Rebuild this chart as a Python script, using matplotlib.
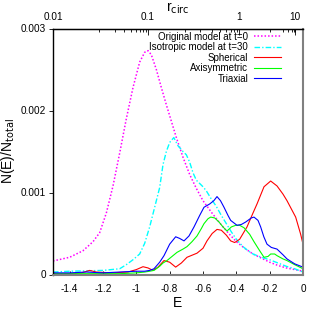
import matplotlib
matplotlib.use('Agg')
import matplotlib.pyplot as plt

plt.rcParams['font.family'] = ['Liberation Sans', 'DejaVu Sans']

# Original model at t=0
E_orig = [-1.5, -1.4, -1.32, -1.26, -1.22, -1.18, -1.14, -1.10, -1.06, -1.02, -0.98, -0.95,
          -0.93, -0.91, -0.88, -0.85, -0.82, -0.79, -0.76, -0.72, -0.68, -0.64, -0.60, -0.55,
          -0.50, -0.45, -0.40, -0.35, -0.30, -0.25, -0.20, -0.15, -0.10, -0.05, 0.0]
N_orig = [0.000165, 0.00021, 0.00029, 0.0004, 0.00051, 0.00075, 0.00108, 0.00148, 0.0019,
          0.00228, 0.00259, 0.00271, 0.00273, 0.00268, 0.0025, 0.00228, 0.00207, 0.00187,
          0.00167, 0.00143, 0.00122, 0.00105, 0.0009, 0.00076, 0.00063, 0.00051, 0.0004,
          0.00032, 0.00025, 0.0002, 0.00015, 0.00011, 0.00008, 0.00006, 0.00004]

# Isotropic model at t=30
E_iso = [-1.5, -1.4, -1.3, -1.2, -1.1, -1.06, -1.02, -0.98, -0.95, -0.92, -0.90, -0.88, -0.86,
         -0.84, -0.82, -0.80, -0.775, -0.75, -0.72, -0.70, -0.68, -0.66, -0.64, -0.62, -0.60,
         -0.58, -0.55, -0.52, -0.49, -0.46, -0.43, -0.40, -0.36, -0.33, -0.30, -0.25, -0.20,
         -0.15, -0.10, -0.05, 0.0]
N_iso = [0.00003, 0.00004, 0.000045, 0.00005, 0.00007, 0.00012, 0.00018, 0.00025, 0.00038,
         0.00058, 0.00074, 0.0009, 0.00106, 0.00134, 0.0015, 0.00161, 0.00167, 0.00157,
         0.0015, 0.00146, 0.00137, 0.00124, 0.00115, 0.00111, 0.00107, 0.00102, 0.00092,
         0.00083, 0.00072, 0.00062, 0.00052, 0.00043, 0.00034, 0.00029, 0.00025, 0.00021,
         0.00018, 0.00014, 0.0001, 0.00007, 0.00003]

# Spherical
E_sph = [-1.5, -1.4, -1.33, -1.28, -1.24, -1.15, -1.05, -1.0, -0.96, -0.93, -0.90, -0.87,
         -0.834, -0.80, -0.764, -0.73, -0.696, -0.636, -0.60, -0.576, -0.545, -0.516, -0.49,
         -0.46, -0.434, -0.41, -0.38, -0.336, -0.30, -0.276, -0.234, -0.194, -0.156, -0.12,
         -0.096, -0.07, -0.044, -0.014, 0.0]
N_sph = [0.00001, 0.00001, 0.00002, 0.00005, 0.00003, 0.00002, 0.00003, 0.00006, 0.000095,
         0.00008, 0.00005, 0.00009, 0.00017, 0.00015, 0.00009, 0.00014, 0.00021, 0.00026,
         0.00032, 0.00041, 0.0005, 0.00055, 0.00054, 0.00048, 0.00041, 0.00039, 0.00043,
         0.00058, 0.00075, 0.00086, 0.00107, 0.00114, 0.00108, 0.00098, 0.0009, 0.0008,
         0.0007, 0.00049, 0.00037]

# Axisymmetric
E_axi = [-1.5, -1.3, -1.2, -1.1, -1.0, -0.95, -0.92, -0.894, -0.86, -0.84, -0.816, -0.786,
         -0.756, -0.72, -0.696, -0.666, -0.636, -0.61, -0.594, -0.57, -0.554, -0.53, -0.504,
         -0.48, -0.456, -0.43, -0.404, -0.38, -0.354, -0.32, -0.294, -0.26, -0.234, -0.21,
         -0.194, -0.17, -0.156, -0.12, -0.096, -0.05, 0.0]
N_axi = [0.00001, 0.00001, 0.00001, 0.00001, 0.00002, 0.00003, 0.00004, 0.00005, 0.0001,
         0.00014, 0.00017, 0.00022, 0.00027, 0.00031, 0.00034, 0.0004, 0.00047, 0.00056,
         0.00062, 0.00068, 0.0007, 0.00069, 0.00064, 0.00058, 0.00053, 0.00058, 0.0006,
         0.0006, 0.00057, 0.00049, 0.0004, 0.00029, 0.00021, 0.00022, 0.00025, 0.00025,
         0.00023, 0.00019, 0.00017, 0.00012, 0.00007]

# Triaxial
E_tri = [-1.5, -1.4, -1.3, -1.2, -1.1, -1.0, -0.95, -0.92, -0.894, -0.86, -0.834, -0.80,
         -0.764, -0.74, -0.714, -0.684, -0.654, -0.62, -0.594, -0.56, -0.535, -0.516, -0.495,
         -0.474, -0.45, -0.434, -0.396, -0.37, -0.344, -0.31, -0.294, -0.27, -0.254, -0.235,
         -0.216, -0.19, -0.156, -0.12, -0.096, -0.05, 0.0]
N_tri = [0.00002, 0.00002, 0.00003, 0.00002, 0.00003, 0.00004, 0.00004, 0.00005, 0.00007,
         0.00015, 0.00023, 0.00037, 0.00046, 0.00044, 0.00041, 0.00047, 0.00058, 0.00072,
         0.00082, 0.00086, 0.0009, 0.00095, 0.0009, 0.00082, 0.00072, 0.00066, 0.0006,
         0.00061, 0.00064, 0.00069, 0.0007, 0.00066, 0.00058, 0.00046, 0.00037, 0.00033,
         0.00031, 0.00024, 0.00019, 0.00013, 0.00009]

# top axis: circular radius and the energy it corresponds to
r_major = ['0.01', '0.1', '1', '10']
E_r_major = [-1.5, -0.93, -0.382, -0.047]
E_r_minor = [-1.224, -1.128, -1.074, -1.032, -1.002, -0.978, -0.96, -0.942,
             -0.708, -0.618, -0.548, -0.498, -0.462, -0.434, -0.414, -0.398,
             -0.198, -0.12, -0.09, -0.066, -0.056, -0.05]

y_ticks = [0, 0.001, 0.002, 0.003]
y_labels = ['0', '0.001', '0.002', '0.003']
x_ticks = [-1.4, -1.2, -1.0, -0.8, -0.6, -0.4, -0.2, 0.0]
x_labels = ['-1.4', '-1.2', '-1', '-0.8', '-0.6', '-0.4', '-0.2', '0']

fig = plt.figure(figsize=(3.14, 3.14), dpi=100)
ax = fig.add_axes([53/314, 39.5/314, 250/314, 246/314])

ax.plot(E_orig, N_orig, color='#ff00ff', ls=(0, (1, 1.3)), lw=1.1, label='Original model at t=0')
ax.plot(E_iso, N_iso, color='#00ffff', ls=(0, (4, 1.5, 1, 1.5)), lw=1.0, label='Isotropic model at t=30')
ax.plot(E_sph, N_sph, color='#ff0000', lw=0.8, label='Spherical')
ax.plot(E_axi, N_axi, color='#00ff00', lw=0.8, label='Axisymmetric')
ax.plot(E_tri, N_tri, color='#0000ff', lw=0.8, label='Triaxial')

ax.set_xlim(-1.5, 0)
ax.set_ylim(0, 0.003)
ax.set_xticks(x_ticks)
ax.set_xticklabels(x_labels)
ax.set_yticks(y_ticks)
ax.set_yticklabels(y_labels)
ax.tick_params(axis='x', direction='in', length=3, width=0.6, pad=7, labelsize=7.2)
ax.tick_params(axis='y', direction='out', length=3, width=0.6, pad=2, labelsize=7.2)
ax.set_xlabel('E', fontsize=10, labelpad=1)
ax.set_ylabel(r'N(E)/N$_{\rm total}$', fontsize=10, labelpad=3)

for s in ['left', 'top']:
    ax.spines[s].set_color('black')
    ax.spines[s].set_linewidth(1.0)
for s in ['right', 'bottom']:
    ax.spines[s].set_color('#808080')
    ax.spines[s].set_linewidth(1.5)

ax2 = ax.twiny()
ax2.set_xlim(-1.5, 0)
ax2.set_xticks(E_r_major)
ax2.set_xticklabels(r_major)
ax2.set_xticks(E_r_minor, minor=True)
ax2.tick_params(axis='x', which='major', direction='in', length=4, width=0.6, pad=5, labelsize=7.2)
ax2.tick_params(axis='x', which='minor', direction='in', length=2, width=0.6)
ax2.set_xlabel(r'r$_{\rm circ}$', fontsize=10, labelpad=0)
for s in ['left', 'right', 'bottom']:
    ax2.spines[s].set_visible(False)
ax2.spines['top'].set_color('black')

ax.legend(loc='upper right', frameon=False, markerfirst=False, fontsize=7,
          handlelength=2.8, handletextpad=0.6, labelspacing=0.05,
          borderaxespad=0.3, bbox_to_anchor=(0.94, 1.015))

fig.savefig('out.png', dpi=100)
